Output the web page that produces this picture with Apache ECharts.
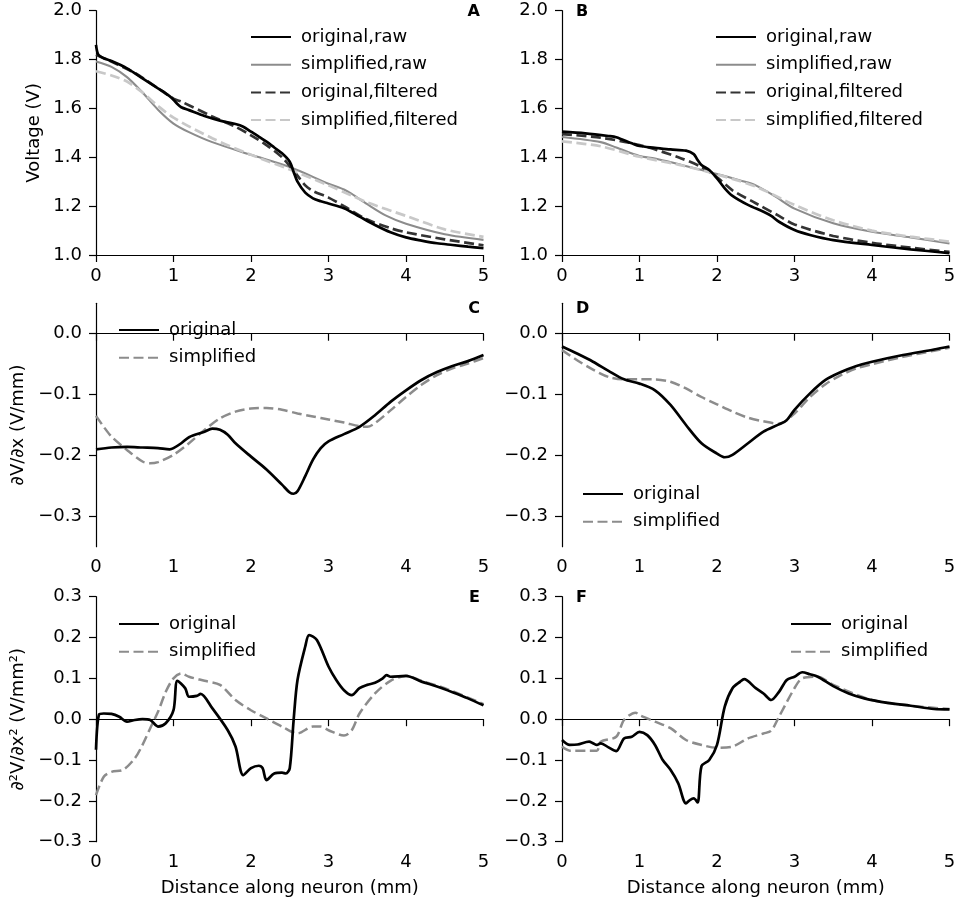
<!DOCTYPE html>
<html>
<head>
<meta charset="utf-8">
<script src="https://cdn.jsdelivr.net/npm/echarts@6/dist/echarts.min.js"></script>
<style>
html,body{margin:0;padding:0;background:#fff;}
#c{width:960px;height:905px;}
</style>
</head>
<body>
<div id="c"></div>
<script>
// ---------- data ----------
var xTicks = [0, 1, 2, 3, 4, 5];
var voltTicks = [1.0, 1.2, 1.4, 1.6, 1.8, 2.0];
var d1Ticks = [-0.3, -0.2, -0.1, 0.0];
var d2Ticks = [-0.3, -0.2, -0.1, 0.0, 0.1, 0.2, 0.3];

// Panel A (voltage)
var A_origRaw = [[0,1.86],[0.03,1.82],[0.1,1.805],[0.2,1.794],[0.4,1.764],[0.6,1.723],[0.8,1.682],[0.9,1.662],[0.97,1.645],[1.05,1.618],[1.1,1.605],[1.2,1.593],[1.4,1.569],[1.6,1.55],[1.8,1.536],[1.9,1.525],[2.0,1.505],[2.1,1.485],[2.2,1.464],[2.3,1.44],[2.4,1.416],[2.5,1.382],[2.55,1.34],[2.6,1.30],[2.7,1.255],[2.8,1.232],[2.9,1.22],[3.0,1.211],[3.2,1.191],[3.4,1.157],[3.6,1.123],[3.8,1.093],[4.0,1.072],[4.2,1.059],[4.4,1.048],[4.6,1.041],[4.8,1.034],[5.0,1.028]];
var A_simpRaw = [[0,1.792],[0.2,1.77],[0.4,1.728],[0.6,1.665],[0.8,1.595],[1.0,1.538],[1.2,1.503],[1.5,1.462],[2.0,1.41],[2.5,1.36],[3.0,1.292],[3.2,1.268],[3.3,1.25],[3.5,1.208],[3.75,1.16],[4.0,1.128],[4.5,1.085],[5.0,1.062]];
var A_origFilt = [[0,1.82],[0.5,1.745],[1.0,1.64],[1.1,1.628],[1.5,1.567],[1.8,1.525],[2.0,1.49],[2.2,1.45],[2.4,1.40],[2.55,1.345],[2.7,1.285],[2.8,1.262],[3.0,1.235],[3.2,1.2],[3.5,1.145],[3.8,1.11],[4.0,1.093],[4.5,1.064],[5.0,1.04]];
var A_simpFilt = [[0,1.752],[0.2,1.735],[0.4,1.71],[0.6,1.665],[0.8,1.61],[1.0,1.562],[1.5,1.478],[2.0,1.41],[2.5,1.35],[3.0,1.285],[3.3,1.243],[3.5,1.215],[4.0,1.16],[4.5,1.105],[5.0,1.074]];

// Panel B (voltage)
var B_origRaw = [[0,1.505],[0.3,1.498],[0.6,1.487],[0.7,1.482],[0.9,1.457],[1.0,1.446],[1.2,1.439],[1.4,1.432],[1.6,1.427],[1.7,1.413],[1.75,1.389],[1.8,1.368],[1.9,1.348],[2.0,1.314],[2.1,1.273],[2.2,1.242],[2.4,1.205],[2.6,1.177],[2.7,1.16],[2.8,1.136],[3.0,1.102],[3.2,1.082],[3.5,1.061],[4.0,1.041],[4.5,1.023],[5.0,1.008]];
var B_simpRaw = [[0,1.483],[0.5,1.462],[0.7,1.44],[1.0,1.405],[1.2,1.395],[1.5,1.372],[2.0,1.332],[2.3,1.305],[2.5,1.285],[2.75,1.24],[3.0,1.19],[3.5,1.13],[4.0,1.095],[4.5,1.072],[5.0,1.047]];
var B_origFilt = [[0,1.495],[0.5,1.48],[1.0,1.45],[1.5,1.40],[1.8,1.36],[2.0,1.318],[2.2,1.265],[2.5,1.212],[2.8,1.16],[3.0,1.125],[3.5,1.078],[4.0,1.05],[4.5,1.03],[5.0,1.013]];
var B_simpFilt = [[0,1.465],[0.5,1.445],[1.0,1.402],[1.5,1.37],[2.0,1.33],[2.5,1.28],[3.0,1.205],[3.5,1.142],[4.0,1.1],[4.5,1.075],[5.0,1.055]];

// Panel C (first derivative)
var C_orig = [[0,-0.19],[0.2,-0.187],[0.4,-0.186],[0.6,-0.187],[0.8,-0.188],[0.95,-0.19],[1.0,-0.188],[1.1,-0.18],[1.2,-0.17],[1.4,-0.161],[1.5,-0.156],[1.6,-0.158],[1.7,-0.166],[1.8,-0.18],[2.0,-0.202],[2.2,-0.223],[2.4,-0.248],[2.5,-0.261],[2.55,-0.263],[2.6,-0.259],[2.7,-0.234],[2.8,-0.207],[2.9,-0.188],[3.0,-0.177],[3.2,-0.165],[3.4,-0.153],[3.6,-0.134],[3.8,-0.112],[4.0,-0.093],[4.2,-0.076],[4.4,-0.063],[4.6,-0.053],[4.8,-0.045],[5.0,-0.035]];
var C_simp = [[0,-0.135],[0.1,-0.153],[0.2,-0.169],[0.4,-0.191],[0.6,-0.21],[0.7,-0.213],[0.8,-0.211],[1.0,-0.199],[1.2,-0.18],[1.4,-0.158],[1.6,-0.139],[1.8,-0.128],[2.0,-0.123],[2.2,-0.122],[2.4,-0.125],[2.6,-0.131],[2.8,-0.136],[3.0,-0.141],[3.2,-0.146],[3.4,-0.152],[3.5,-0.153],[3.6,-0.147],[3.8,-0.126],[4.0,-0.104],[4.2,-0.084],[4.4,-0.068],[4.6,-0.057],[4.8,-0.049],[5.0,-0.04]];

// Panel D (first derivative)
var D_orig = [[0,-0.021],[0.2,-0.033],[0.4,-0.046],[0.6,-0.061],[0.8,-0.075],[1.0,-0.082],[1.2,-0.093],[1.4,-0.117],[1.6,-0.15],[1.8,-0.18],[2.0,-0.197],[2.1,-0.203],[2.2,-0.199],[2.4,-0.18],[2.6,-0.161],[2.8,-0.149],[2.9,-0.142],[3.0,-0.125],[3.2,-0.098],[3.4,-0.076],[3.6,-0.063],[3.8,-0.053],[4.0,-0.046],[4.4,-0.035],[4.8,-0.026],[5.0,-0.021]];
var D_simp = [[0,-0.027],[0.2,-0.044],[0.4,-0.059],[0.6,-0.071],[0.8,-0.075],[1.0,-0.075],[1.2,-0.075],[1.4,-0.079],[1.6,-0.09],[1.8,-0.104],[2.0,-0.116],[2.2,-0.128],[2.4,-0.138],[2.6,-0.144],[2.8,-0.148],[3.0,-0.131],[3.2,-0.104],[3.4,-0.083],[3.6,-0.068],[3.8,-0.057],[4.0,-0.05],[4.4,-0.038],[4.8,-0.028],[5.0,-0.023]];

// Panel E (second derivative)
var E_orig = [[0,-0.075],[0.04,0.012],[0.1,0.014],[0.2,0.013],[0.3,0.006],[0.4,-0.006],[0.5,-0.002],[0.6,0.0],[0.7,-0.002],[0.8,-0.018],[0.9,-0.01],[1.0,0.022],[1.05,0.094],[1.15,0.076],[1.2,0.055],[1.3,0.057],[1.35,0.062],[1.5,0.027],[1.7,-0.027],[1.8,-0.067],[1.9,-0.137],[2.0,-0.12],[2.1,-0.114],[2.15,-0.12],[2.2,-0.149],[2.3,-0.133],[2.4,-0.131],[2.45,-0.133],[2.5,-0.12],[2.55,-0.002],[2.6,0.096],[2.7,0.178],[2.75,0.206],[2.85,0.194],[3.0,0.129],[3.1,0.096],[3.2,0.071],[3.3,0.059],[3.4,0.076],[3.5,0.084],[3.6,0.089],[3.7,0.1],[3.75,0.108],[3.8,0.104],[4.0,0.106],[4.2,0.092],[4.4,0.08],[4.6,0.066],[4.8,0.051],[5.0,0.034]];
var E_simp = [[0,-0.186],[0.1,-0.141],[0.2,-0.129],[0.35,-0.124],[0.5,-0.096],[0.6,-0.063],[0.7,-0.022],[0.8,0.018],[0.9,0.067],[1.0,0.1],[1.1,0.112],[1.2,0.104],[1.4,0.094],[1.6,0.084],[1.8,0.047],[2.0,0.022],[2.2,0.002],[2.4,-0.018],[2.6,-0.035],[2.8,-0.018],[2.9,-0.018],[3.0,-0.027],[3.2,-0.04],[3.3,-0.027],[3.4,0.014],[3.6,0.063],[3.8,0.094],[4.0,0.106],[4.2,0.094],[4.5,0.076],[5.0,0.037]];

// Panel F (second derivative)
var F_orig = [[0,-0.051],[0.1,-0.063],[0.2,-0.062],[0.35,-0.055],[0.4,-0.059],[0.45,-0.063],[0.5,-0.059],[0.6,-0.069],[0.7,-0.078],[0.8,-0.047],[0.9,-0.043],[1.0,-0.031],[1.1,-0.039],[1.2,-0.063],[1.3,-0.1],[1.4,-0.124],[1.5,-0.157],[1.6,-0.206],[1.65,-0.198],[1.7,-0.194],[1.75,-0.204],[1.8,-0.115],[1.9,-0.1],[2.0,-0.063],[2.1,0.031],[2.2,0.076],[2.3,0.092],[2.35,0.098],[2.5,0.076],[2.6,0.063],[2.7,0.047],[2.8,0.067],[2.9,0.096],[3.0,0.104],[3.1,0.115],[3.2,0.11],[3.3,0.104],[3.5,0.081],[3.7,0.063],[3.9,0.051],[4.2,0.04],[4.5,0.033],[4.8,0.025],[5.0,0.024]];
var F_simp = [[0,-0.067],[0.1,-0.077],[0.3,-0.077],[0.45,-0.077],[0.5,-0.055],[0.7,-0.043],[0.8,-0.002],[0.95,0.016],[1.0,0.01],[1.2,-0.006],[1.4,-0.022],[1.6,-0.051],[1.8,-0.063],[2.0,-0.07],[2.2,-0.067],[2.4,-0.047],[2.6,-0.035],[2.7,-0.028],[2.8,0.006],[3.0,0.076],[3.1,0.1],[3.3,0.104],[3.5,0.084],[4.0,0.047],[4.5,0.033],[5.0,0.025]];

// ---------- layout ----------
var FONT = 'DejaVu Sans';
var colL = 96, colR = 562, colW = 387.5;
var rows = [{top:10.7,h:244.3},{top:303.3,h:243.4},{top:596.7,h:245}];
var grids = [];
for (var r=0;r<3;r++){ for (var c=0;c<2;c++){ grids.push({left:(c===0?colL:colR), top:rows[r].top, width:colW, height:rows[r].h, containLabel:false}); } }

function fmt1(v){ var s = Math.abs(v).toFixed(1); return (v < -1e-9 ? '\u2212' : '') + s; }

var axisLineStyle = {show:true, lineStyle:{color:'#000', width:1.2}};
var tickStyle = {show:true, length:7, lineStyle:{color:'#000', width:1.2}};
var xLabelStyle = {color:'#000', fontFamily:FONT, fontSize:18, margin:12};
var yLabelStyle = {color:'#000', fontFamily:FONT, fontSize:18, margin:14};

var xAxes = [], yAxes = [];
for (var i=0;i<6;i++){
  var xa = {type:'value', gridIndex:i, min:0, max:5, interval:1,
    axisLine:axisLineStyle, axisTick:tickStyle, splitLine:{show:false},
    axisLabel:Object.assign({}, xLabelStyle, {formatter:function(v){return String(Math.round(v));}})};
  if (i>=4){ xa.name='Distance along neuron (mm)'; xa.nameLocation='middle'; xa.nameGap=38;
    xa.nameTextStyle={color:'#000', fontFamily:FONT, fontSize:18}; }
  xAxes.push(xa);
  var r2 = Math.floor(i/2);
  var ya = {type:'value', gridIndex:i, axisLine:axisLineStyle, splitLine:{show:false}};
  if (r2===0){ ya.min=1.0; ya.max=2.0; ya.interval=0.2;
    ya.axisTick=tickStyle; ya.axisLabel=Object.assign({}, yLabelStyle, {formatter:fmt1});
    if (i===0){ ya.name='Voltage (V)'; ya.nameGap=53; } }
  else if (r2===1){ ya.min=-0.35; ya.max=0.05; ya.interval=0.05;
    ya.axisTick=Object.assign({}, tickStyle, {customValues:d1Ticks});
    ya.axisLabel=Object.assign({}, yLabelStyle, {formatter:fmt1, customValues:d1Ticks});
    if (i===2){ ya.name='\u2202V/\u2202x (V/mm)'; ya.nameGap=69; } }
  else { ya.min=-0.3; ya.max=0.3; ya.interval=0.1;
    ya.axisTick=tickStyle; ya.axisLabel=Object.assign({}, yLabelStyle, {formatter:fmt1});
    if (i===4){ ya.name='\u2202\u00B2V/\u2202x\u00B2 (V/mm\u00B2)'; ya.nameGap=69; } }
  if (ya.name){ ya.nameLocation='middle'; ya.nameTextStyle={color:'#000', fontFamily:FONT, fontSize:18}; }
  yAxes.push(ya);
}

var DASH = [10, 4.5];
var styles = {
  origRaw:  {color:'#000000', width:2.7, type:'solid'},
  simpRaw:  {color:'#8c8c8c', width:2.1, type:'solid'},
  origFilt: {color:'#333333', width:2.7, type:DASH},
  simpFilt: {color:'#c8c8c8', width:2.7, type:DASH},
  orig:     {color:'#000000', width:2.7, type:'solid'},
  simp:     {color:'#8c8c8c', width:2.5, type:DASH}
};

function mk(name, data, idx, st){
  return {type:'line', name:name, data:data, xAxisIndex:idx, yAxisIndex:idx,
    symbol:'none', showSymbol:false, smooth:0.3, clip:true,
    lineStyle:{color:st.color, width:st.width, type:st.type},
    itemStyle:{color:st.color}, emphasis:{disabled:true}, z:3};
}

var series = [
  mk('original,raw', A_origRaw, 0, styles.origRaw),
  mk('simplified,raw', A_simpRaw, 0, styles.simpRaw),
  mk('original,filtered', A_origFilt, 0, styles.origFilt),
  mk('simplified,filtered', A_simpFilt, 0, styles.simpFilt),
  mk('original,raw', B_origRaw, 1, styles.origRaw),
  mk('simplified,raw', B_simpRaw, 1, styles.simpRaw),
  mk('original,filtered', B_origFilt, 1, styles.origFilt),
  mk('simplified,filtered', B_simpFilt, 1, styles.simpFilt),
  mk('original', C_orig, 2, styles.orig),
  mk('simplified', C_simp, 2, styles.simp),
  mk('original', D_orig, 3, styles.orig),
  mk('simplified', D_simp, 3, styles.simp),
  mk('original', E_orig, 4, styles.orig),
  mk('simplified', E_simp, 4, styles.simp),
  mk('original', F_orig, 5, styles.orig),
  mk('simplified', F_simp, 5, styles.simp)
];
series.forEach(function(s){ if (s.lineStyle.color==='#000000') s.z = 5; });

function legend(left, top, names){
  return {orient:'vertical', left:left, top:top, data:names, itemWidth:40, itemHeight:14, itemGap:7.7,
    selectedMode:false, itemStyle:{opacity:0},
    textStyle:{color:'#000', fontFamily:FONT, fontSize:18, lineHeight:20, padding:[0,0,0,5]}};
}
var vNames = ['original,raw','simplified,raw','original,filtered','simplified,filtered'];
var dNames = ['original','simplified'];

var letterFont = 'bold 16px "' + FONT + '"';
function letter(t, x, y, align){
  return {type:'text', x:x, y:y, style:{text:t, font:letterFont, fill:'#000', textAlign:align, textVerticalAlign:'middle'}, z:10};
}

var option = {
  animation:false,
  backgroundColor:'#fff',
  grid:grids, xAxis:xAxes, yAxis:yAxes, series:series,
  legend:[
    legend(245, 22, vNames),
    legend(710, 22, vNames),
    legend(113, 315, dNames),
    legend(577, 479, dNames),
    legend(113, 609, dNames),
    legend(785, 609, dNames)
  ],
  graphic:[
    letter('A', 480, 12, 'right'),
    letter('B', 576, 12, 'left'),
    letter('C', 480, 309, 'right'),
    letter('D', 576, 309, 'left'),
    letter('E', 480, 598, 'right'),
    letter('F', 576, 598, 'left')
  ]
};

var chart = echarts.init(document.getElementById('c'), null, {renderer:'canvas'});
chart.setOption(option);
</script>
</body>
</html>
